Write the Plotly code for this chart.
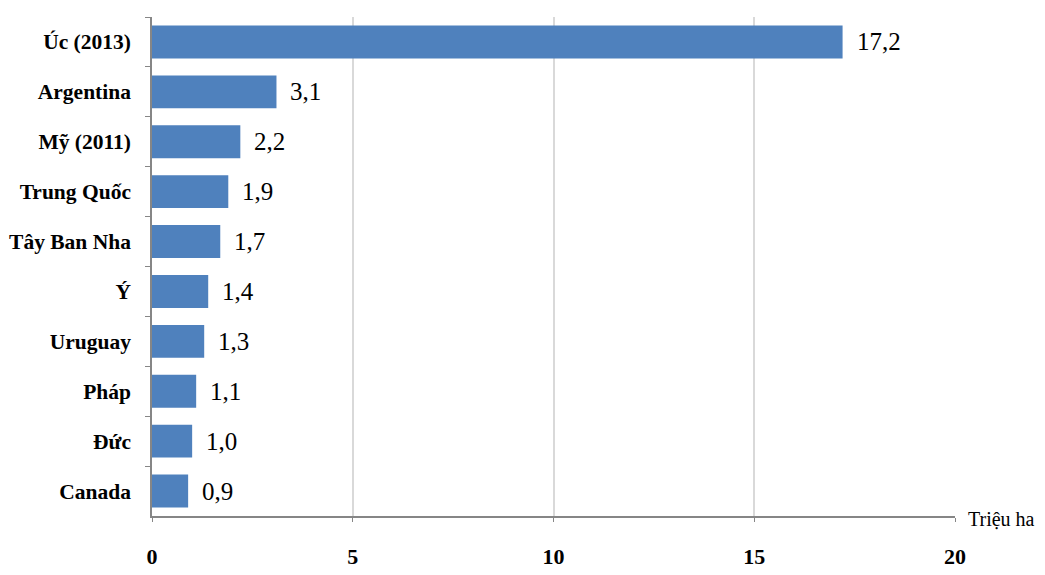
import plotly.graph_objects as go

categories = ["Úc (2013)", "Argentina", "Mỹ (2011)", "Trung Quốc", "Tây Ban Nha",
              "Ý", "Uruguay", "Pháp", "Đức", "Canada"]
values = [17.2, 3.1, 2.2, 1.9, 1.7, 1.4, 1.3, 1.1, 1.0, 0.9]
x_ticks = [0, 5, 10, 15, 20]
unit_label = "Triệu ha"

labels = [f"{v:.1f}".replace(".", ",") for v in values]
SERIF = "Liberation Serif, Times New Roman, Times, serif"

fig = go.Figure()
fig.add_trace(go.Bar(
    y=categories, x=values, orientation="h",
    marker=dict(color="#4F81BD", line=dict(width=0)),
    hoverinfo="skip",
))

for c, v, t in zip(categories, values, labels):
    fig.add_annotation(x=v, y=c, text=t, xanchor="left", yanchor="middle",
                       xshift=12, showarrow=False,
                       font=dict(family=SERIF, size=25, color="#000"))

fig.add_annotation(xref="paper", yref="paper", x=1.0, y=0, text=unit_label,
                   xanchor="left", yanchor="middle", xshift=11, yshift=-3,
                   showarrow=False,
                   font=dict(family=SERIF, size=20, color="#000"))

# page body has an 8px margin; margins compensate so plot area sits at
# x 152..955, y 17..516 in the screenshot
fig.update_layout(
    width=1045, height=575,
    margin=dict(l=144, r=98, t=9, b=67),
    paper_bgcolor="white", plot_bgcolor="white",
    bargap=0.34,
    showlegend=False,
    font=dict(family=SERIF),
    xaxis=dict(range=[0, 20], tickvals=x_ticks, ticktext=[str(t) for t in x_ticks],
               showgrid=True, gridcolor="#D9D9D9", gridwidth=1.5,
               showline=True, linecolor="#868686", linewidth=1.5,
               ticks="outside", ticklen=4, tickcolor="#868686",
               ticklabelstandoff=16, zeroline=False, automargin=False,
               tickfont=dict(family=SERIF, size=22, color="#000", weight="bold")),
    yaxis=dict(autorange="reversed", type="category",
               showline=True, linecolor="#868686", linewidth=1.5,
               ticks="outside", ticklen=5, tickcolor="#868686",
               tickson="boundaries", showgrid=False, automargin=False,
               ticklabelstandoff=15,
               tickfont=dict(family=SERIF, size=21.5, color="#000", weight="bold")),
)

fig.write_html("out.html")
